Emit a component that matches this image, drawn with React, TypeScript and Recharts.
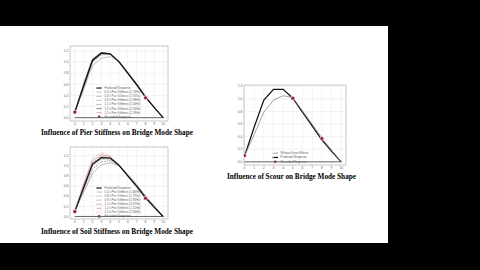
import React from 'react';
import {
  ComposedChart,
  Line,
  Scatter,
  XAxis,
  YAxis,
  CartesianGrid,
  ReferenceArea,
  ReferenceLine,
} from 'recharts';

// ---------- data ----------
const positions = [0, 1, 2, 3, 4, 5, 6, 7, 8, 9, 10];
const xTickLabels = ['0', '1', '2', '3', '4', '5', '6', '7', '8', '9', '10'];
const yTicks = [0, 0.2, 0.4, 0.6, 0.8, 1.0, 1.2];

// Pier stiffness chart
const pierPredicted = [0.1, 0.57, 1.03, 1.16, 1.15, 1.01, 0.8, 0.6, 0.37, 0.18, 0.0];
const pier05 = [0.1, 0.5, 0.93, 1.07, 1.1, 1.01, 0.82, 0.61, 0.39, 0.19, 0.0];
const pier08 = [0.1, 0.55, 1.0, 1.13, 1.14, 1.01, 0.81, 0.6, 0.38, 0.19, 0.0];
const pier09 = [0.1, 0.56, 1.02, 1.15, 1.15, 1.01, 0.8, 0.6, 0.38, 0.18, 0.0];
const pier11 = [0.1, 0.59, 1.04, 1.17, 1.15, 1.0, 0.8, 0.59, 0.37, 0.18, 0.0];
const pier12 = [0.1, 0.6, 1.05, 1.17, 1.15, 1.0, 0.79, 0.58, 0.37, 0.18, 0.0];
const pier15 = [0.1, 0.62, 1.06, 1.18, 1.15, 0.99, 0.79, 0.58, 0.36, 0.18, 0.0];
const pierRecordedX = [0, 8];
const pierRecordedY = [0.1, 0.36];

// Soil stiffness chart
const soilPredicted = [0.1, 0.57, 1.03, 1.16, 1.15, 1.01, 0.8, 0.6, 0.37, 0.18, 0.0];
const soil05 = [0.1, 0.48, 0.85, 1.02, 1.06, 1.0, 0.83, 0.63, 0.41, 0.21, 0.0];
const soil075 = [0.1, 0.52, 0.93, 1.08, 1.1, 1.01, 0.82, 0.62, 0.4, 0.2, 0.0];
const soil09 = [0.1, 0.55, 1.0, 1.13, 1.13, 1.01, 0.81, 0.61, 0.39, 0.19, 0.0];
const soil11 = [0.1, 0.6, 1.06, 1.19, 1.16, 1.01, 0.8, 0.59, 0.37, 0.18, 0.0];
const soil125 = [0.1, 0.63, 1.1, 1.22, 1.18, 1.01, 0.79, 0.58, 0.36, 0.17, 0.0];
const soil15 = [0.1, 0.66, 1.14, 1.26, 1.2, 1.01, 0.78, 0.57, 0.35, 0.17, 0.0];
const soilRecordedX = [0, 8];
const soilRecordedY = [0.1, 0.36];

// Scour chart
const scourPredicted = [0.09, 0.55, 0.98, 1.15, 1.15, 1.01, 0.79, 0.57, 0.35, 0.17, 0.0];
const scourWithout = [0.09, 0.43, 0.79, 0.98, 1.05, 1.02, 0.81, 0.6, 0.38, 0.19, 0.0];
const scourRecordedX = [0, 5, 8];
const scourRecordedY = [0.1, 1.01, 0.37];

const pierNames = [
  'Predicted Response',
  '0.5 x Pier Stiffness (1.74Hz)',
  '0.8 x Pier Stiffness (1.93Hz)',
  '0.9 x Pier Stiffness (1.98Hz)',
  '1.1 x Pier Stiffness (2.06Hz)',
  '1.2 x Pier Stiffness (2.10Hz)',
  '1.5 x Pier Stiffness (2.19Hz)',
];
const soilNames = [
  'Predicted Response',
  '0.5 x Pier Stiffness (1.66Hz)',
  '0.8 x Pier Stiffness (1.79Hz)',
  '0.9 x Pier Stiffness (1.95Hz)',
  '1.1 x Pier Stiffness (2.07Hz)',
  '1.2 x Pier Stiffness (2.15Hz)',
  '1.5 x Pier Stiffness (2.26Hz)',
];
const scourNames = ['Without Scour Effects', 'Predicted Response'];
const recordedName = 'Recorded Response';

type SeriesDef = {
  key: string;
  name: string;
  values: number[];
  color: string;
  width: number;
  dash?: string;
};

const pierSeries: SeriesDef[] = [
  { key: 'p', name: pierNames[0], values: pierPredicted, color: '#111', width: 1.2 },
  { key: 'a', name: pierNames[1], values: pier05, color: '#aaa', width: 0.7 },
  { key: 'b', name: pierNames[2], values: pier08, color: '#666', width: 0.7, dash: '1.5 1' },
  { key: 'c', name: pierNames[3], values: pier09, color: '#444', width: 0.7, dash: '0.6 0.8' },
  { key: 'd', name: pierNames[4], values: pier11, color: '#777', width: 0.7, dash: '2 1' },
  { key: 'e', name: pierNames[5], values: pier12, color: '#555', width: 0.7 },
  { key: 'f', name: pierNames[6], values: pier15, color: '#d88', width: 0.7 },
];

const soilSeries: SeriesDef[] = [
  { key: 'p', name: soilNames[0], values: soilPredicted, color: '#111', width: 1.2 },
  { key: 'a', name: soilNames[1], values: soil05, color: '#999', width: 0.7 },
  { key: 'b', name: soilNames[2], values: soil075, color: '#777', width: 0.7, dash: '1.5 1' },
  { key: 'c', name: soilNames[3], values: soil09, color: '#444', width: 0.7, dash: '0.6 0.8' },
  { key: 'd', name: soilNames[4], values: soil11, color: '#b55', width: 0.7, dash: '2 1' },
  { key: 'e', name: soilNames[5], values: soil125, color: '#c99', width: 0.7 },
  { key: 'f', name: soilNames[6], values: soil15, color: '#d8a0a0', width: 0.7, dash: '1.5 1' },
];

const scourSeries: SeriesDef[] = [
  { key: 'w', name: scourNames[0], values: scourWithout, color: '#8a8a8a', width: 0.8 },
  { key: 'p', name: scourNames[1], values: scourPredicted, color: '#111', width: 1.25 },
];

const tickStyle = { fontSize: 3.4, fill: '#666', fontFamily: 'Liberation Sans' };

const RecordedDot = (props: any) => {
  const { cx, cy } = props;
  if (cx == null || cy == null) return <g />;
  return (
    <g>
      <circle cx={cx} cy={cy} r={2.3} fill="#f2c6cc" />
      <circle cx={cx} cy={cy} r={1.5} fill="#8a1d2e" />
    </g>
  );
};

type ChartProps = {
  left: number;
  top: number;
  plotW: number;
  plotH: number;
  xDomain: [number, number];
  yDomain: [number, number];
  series: SeriesDef[];
  recX: number[];
  recY: number[];
};

function ModeChart({ left, top, plotW, plotH, xDomain, yDomain, series, recX, recY }: ChartProps) {
  const rows = positions.map((x, i) => {
    const r: any = { x };
    series.forEach((s) => {
      r[s.key] = s.values[i];
    });
    return r;
  });
  const rec = recX.map((x, i) => ({ x, rec: recY[i] }));
  const yW = 12;
  const mT = 2;
  const mR = 2;
  const xH = 8;
  const drawOrder = [...series].reverse();
  return (
    <div style={{ position: 'absolute', left, top }}>
      <ComposedChart
        width={yW + plotW + mR}
        height={mT + plotH + xH}
        data={rows}
        margin={{ top: mT, right: mR, bottom: 0, left: 0 }}
      >
        <CartesianGrid stroke="#e6e6e6" strokeWidth={0.5} />
        <XAxis
          type="number"
          dataKey="x"
          domain={xDomain}
          ticks={positions}
          tickFormatter={(v: number) => xTickLabels[v] ?? String(v)}
          height={xH}
          tickSize={0}
          tickMargin={1.5}
          axisLine={false}
          tick={tickStyle}
          interval={0}
          allowDataOverflow
        />
        <YAxis
          type="number"
          domain={yDomain}
          ticks={yTicks}
          tickFormatter={(v: number) => v.toFixed(1)}
          width={yW}
          tickSize={0}
          tickMargin={1.5}
          axisLine={false}
          tick={tickStyle}
          interval={0}
          allowDataOverflow
        />
        <ReferenceArea
          x1={xDomain[0]}
          x2={xDomain[1]}
          y1={yDomain[0]}
          y2={yDomain[1]}
          fill="none"
          fillOpacity={0}
          stroke="#b0b0b0"
          strokeWidth={0.6}
          ifOverflow="visible"
        />
        <ReferenceLine
          segment={[
            { x: positions[0], y: 0 },
            { x: positions[positions.length - 1], y: 0 },
          ]}
          stroke="#444"
          strokeWidth={0.8}
        />
        {drawOrder.map((s) => (
          <Line
            key={s.key}
            type="linear"
            dataKey={s.key}
            stroke={s.color}
            strokeWidth={s.width}
            strokeDasharray={s.dash}
            dot={false}
            activeDot={false}
            isAnimationActive={false}
          />
        ))}
        <Scatter data={rec} dataKey="rec" isAnimationActive={false} shape={RecordedDot} />
      </ComposedChart>
    </div>
  );
}

type LegendProps = {
  x: number;
  y: number;
  w: number;
  rowH: number;
  series: SeriesDef[];
};

function ChartLegend({ x, y, w, rowH, series }: LegendProps) {
  const n = series.length + 1;
  const h = n * rowH + 2;
  return (
    <svg style={{ position: 'absolute', left: x, top: y, overflow: 'visible' }} width={w} height={h}>
      <rect x={0} y={0} width={w} height={h} fill="#fff" />
      {series.map((s, i) => {
        const cy = 1 + rowH * (i + 0.5);
        return (
          <g key={s.key}>
            <line x1={1.5} x2={7} y1={cy} y2={cy} stroke={s.color} strokeWidth={s.width} strokeDasharray={s.dash} />
            <text x={9.5} y={cy + 1} fontSize={2.9} fill="#555" fontFamily="Liberation Sans">
              {s.name}
            </text>
          </g>
        );
      })}
      <g>
        <circle cx={4.2} cy={1 + rowH * (n - 0.5)} r={1.3} fill="#8a1d2e" />
        <text x={9.5} y={1 + rowH * (n - 0.5) + 1} fontSize={2.9} fill="#555" fontFamily="Liberation Sans">
          {recordedName}
        </text>
      </g>
    </svg>
  );
}

const titleStyle = {
  fontFamily: 'Liberation Serif',
  fontWeight: 700,
  fontSize: 8.4,
  fill: '#000',
} as const;

export default function App() {
  return (
    <div
      style={{
        position: 'fixed',
        left: 0,
        top: 0,
        width: 480,
        height: 270,
        background: '#000',
        overflow: 'hidden',
      }}
    >
      <div style={{ position: 'absolute', left: 0, top: 26, width: 388, height: 217, background: '#fff' }} />

      <ChartLegend x={95} y={84.5} w={50} rowH={4.1} series={pierSeries} />
      <ModeChart
        left={58}
        top={44}
        plotW={98}
        plotH={75}
        xDomain={[-0.55, 10.55]}
        yDomain={[-0.06, 1.29]}
        series={pierSeries}
        recX={pierRecordedX}
        recY={pierRecordedY}
      />

      <ChartLegend x={95} y={184.5} w={50} rowH={4.05} series={soilSeries} />
      <ModeChart
        left={58}
        top={145}
        plotW={98}
        plotH={72}
        xDomain={[-0.55, 10.55]}
        yDomain={[-0.05, 1.37]}
        series={soilSeries}
        recX={soilRecordedX}
        recY={soilRecordedY}
      />

      <ChartLegend x={271} y={150} w={44} rowH={4.3} series={scourSeries} />
      <ModeChart
        left={232}
        top={83}
        plotW={102}
        plotH={80}
        xDomain={[-0.05, 10.5]}
        yDomain={[-0.05, 1.22]}
        series={scourSeries}
        recX={scourRecordedX}
        recY={scourRecordedY}
      />

      <svg style={{ position: 'absolute', left: 0, top: 0 }} width={480} height={270}>
        <text x={41} y={135} textLength={152} lengthAdjust="spacingAndGlyphs" {...titleStyle}>
          Influence of Pier Stiffness on Bridge Mode Shape
        </text>
        <text x={41} y={233.5} textLength={152} lengthAdjust="spacingAndGlyphs" {...titleStyle}>
          Influence of Soil Stiffness on Bridge Mode Shape
        </text>
        <text x={227} y={179} textLength={129} lengthAdjust="spacingAndGlyphs" {...titleStyle}>
          Influence of Scour on Bridge Mode Shape
        </text>
      </svg>
    </div>
  );
}
